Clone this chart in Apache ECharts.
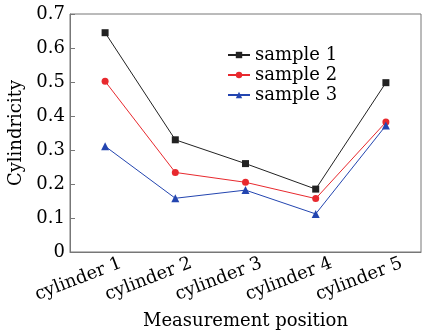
<!DOCTYPE html>
<html>
<head>
<meta charset="utf-8">
<script src="https://cdn.jsdelivr.net/npm/echarts@6/dist/echarts.min.js"></script>
<style>
  html, body { margin: 0; padding: 0; background: #fff; }
  #chart { width: 425px; height: 333px; }
</style>
</head>
<body>
<div id="chart"></div>
<script>
var categories = ['cylinder 1', 'cylinder 2', 'cylinder 3', 'cylinder 4', 'cylinder 5'];
var sample1 = [0.645, 0.330, 0.260, 0.185, 0.498];
var sample2 = [0.502, 0.234, 0.205, 0.157, 0.382];
var sample3 = [0.311, 0.158, 0.182, 0.112, 0.372];
var seriesNames = ['sample 1', 'sample 2', 'sample 3'];

var font = 'DejaVu Serif';
var chart = echarts.init(document.getElementById('chart'));

var makeSeries = function(name, data, color, symbol, size) {
  return {
    name: name,
    type: 'line',
    data: data,
    symbol: symbol,
    symbolSize: size,
    showAllSymbol: true,
    lineStyle: { color: color, width: 1 },
    itemStyle: { color: color },
    emphasis: { disabled: true }
  };
};

chart.setOption({
  animation: false,
  backgroundColor: '#fff',
  grid: {
    left: 70, right: 4, top: 14, bottom: 81,
    outerBoundsMode: 'none',
    show: true, borderColor: '#777', borderWidth: 1
  },
  legend: {
    orient: 'vertical',
    left: 222, top: 41,
    itemWidth: 22, itemHeight: 8, itemGap: 2,
    textStyle: { fontFamily: font, fontSize: 18, color: '#000', lineHeight: 18 },
    data: seriesNames
  },
  xAxis: {
    type: 'category',
    data: categories,
    boundaryGap: true,
    name: 'Measurement position',
    nameLocation: 'middle',
    nameGap: 60,
    nameTextStyle: { fontFamily: font, fontSize: 18, color: '#000' },
    axisLine: { lineStyle: { color: '#777' } },
    axisTick: { inside: true, alignWithLabel: true, length: 5, lineStyle: { color: '#777' } },
    axisLabel: { rotate: 21, fontFamily: font, fontSize: 18, color: '#000', margin: 17,
      padding: [0, -17, 0, 0] },
    splitLine: { show: false }
  },
  yAxis: {
    type: 'value',
    min: 0, max: 0.7, interval: 0.1,
    name: 'Cylindricity',
    nameLocation: 'middle',
    nameGap: 42,
    nameTextStyle: { fontFamily: font, fontSize: 18, color: '#000' },
    axisLine: { show: true, lineStyle: { color: '#777' } },
    axisTick: { show: true, inside: true, length: 5, lineStyle: { color: '#777' } },
    axisLabel: { fontFamily: font, fontSize: 18, color: '#000', margin: 5,
      formatter: function(v) { return v === 0 ? '0' : v.toFixed(1); } },
    splitLine: { show: false }
  },
  series: [
    makeSeries('sample 1', sample1, '#222', 'rect', 7),
    makeSeries('sample 2', sample2, '#e8292e', 'circle', 7),
    makeSeries('sample 3', sample3, '#2345b0', 'triangle', 8)
  ]
});
</script>
</body>
</html>
